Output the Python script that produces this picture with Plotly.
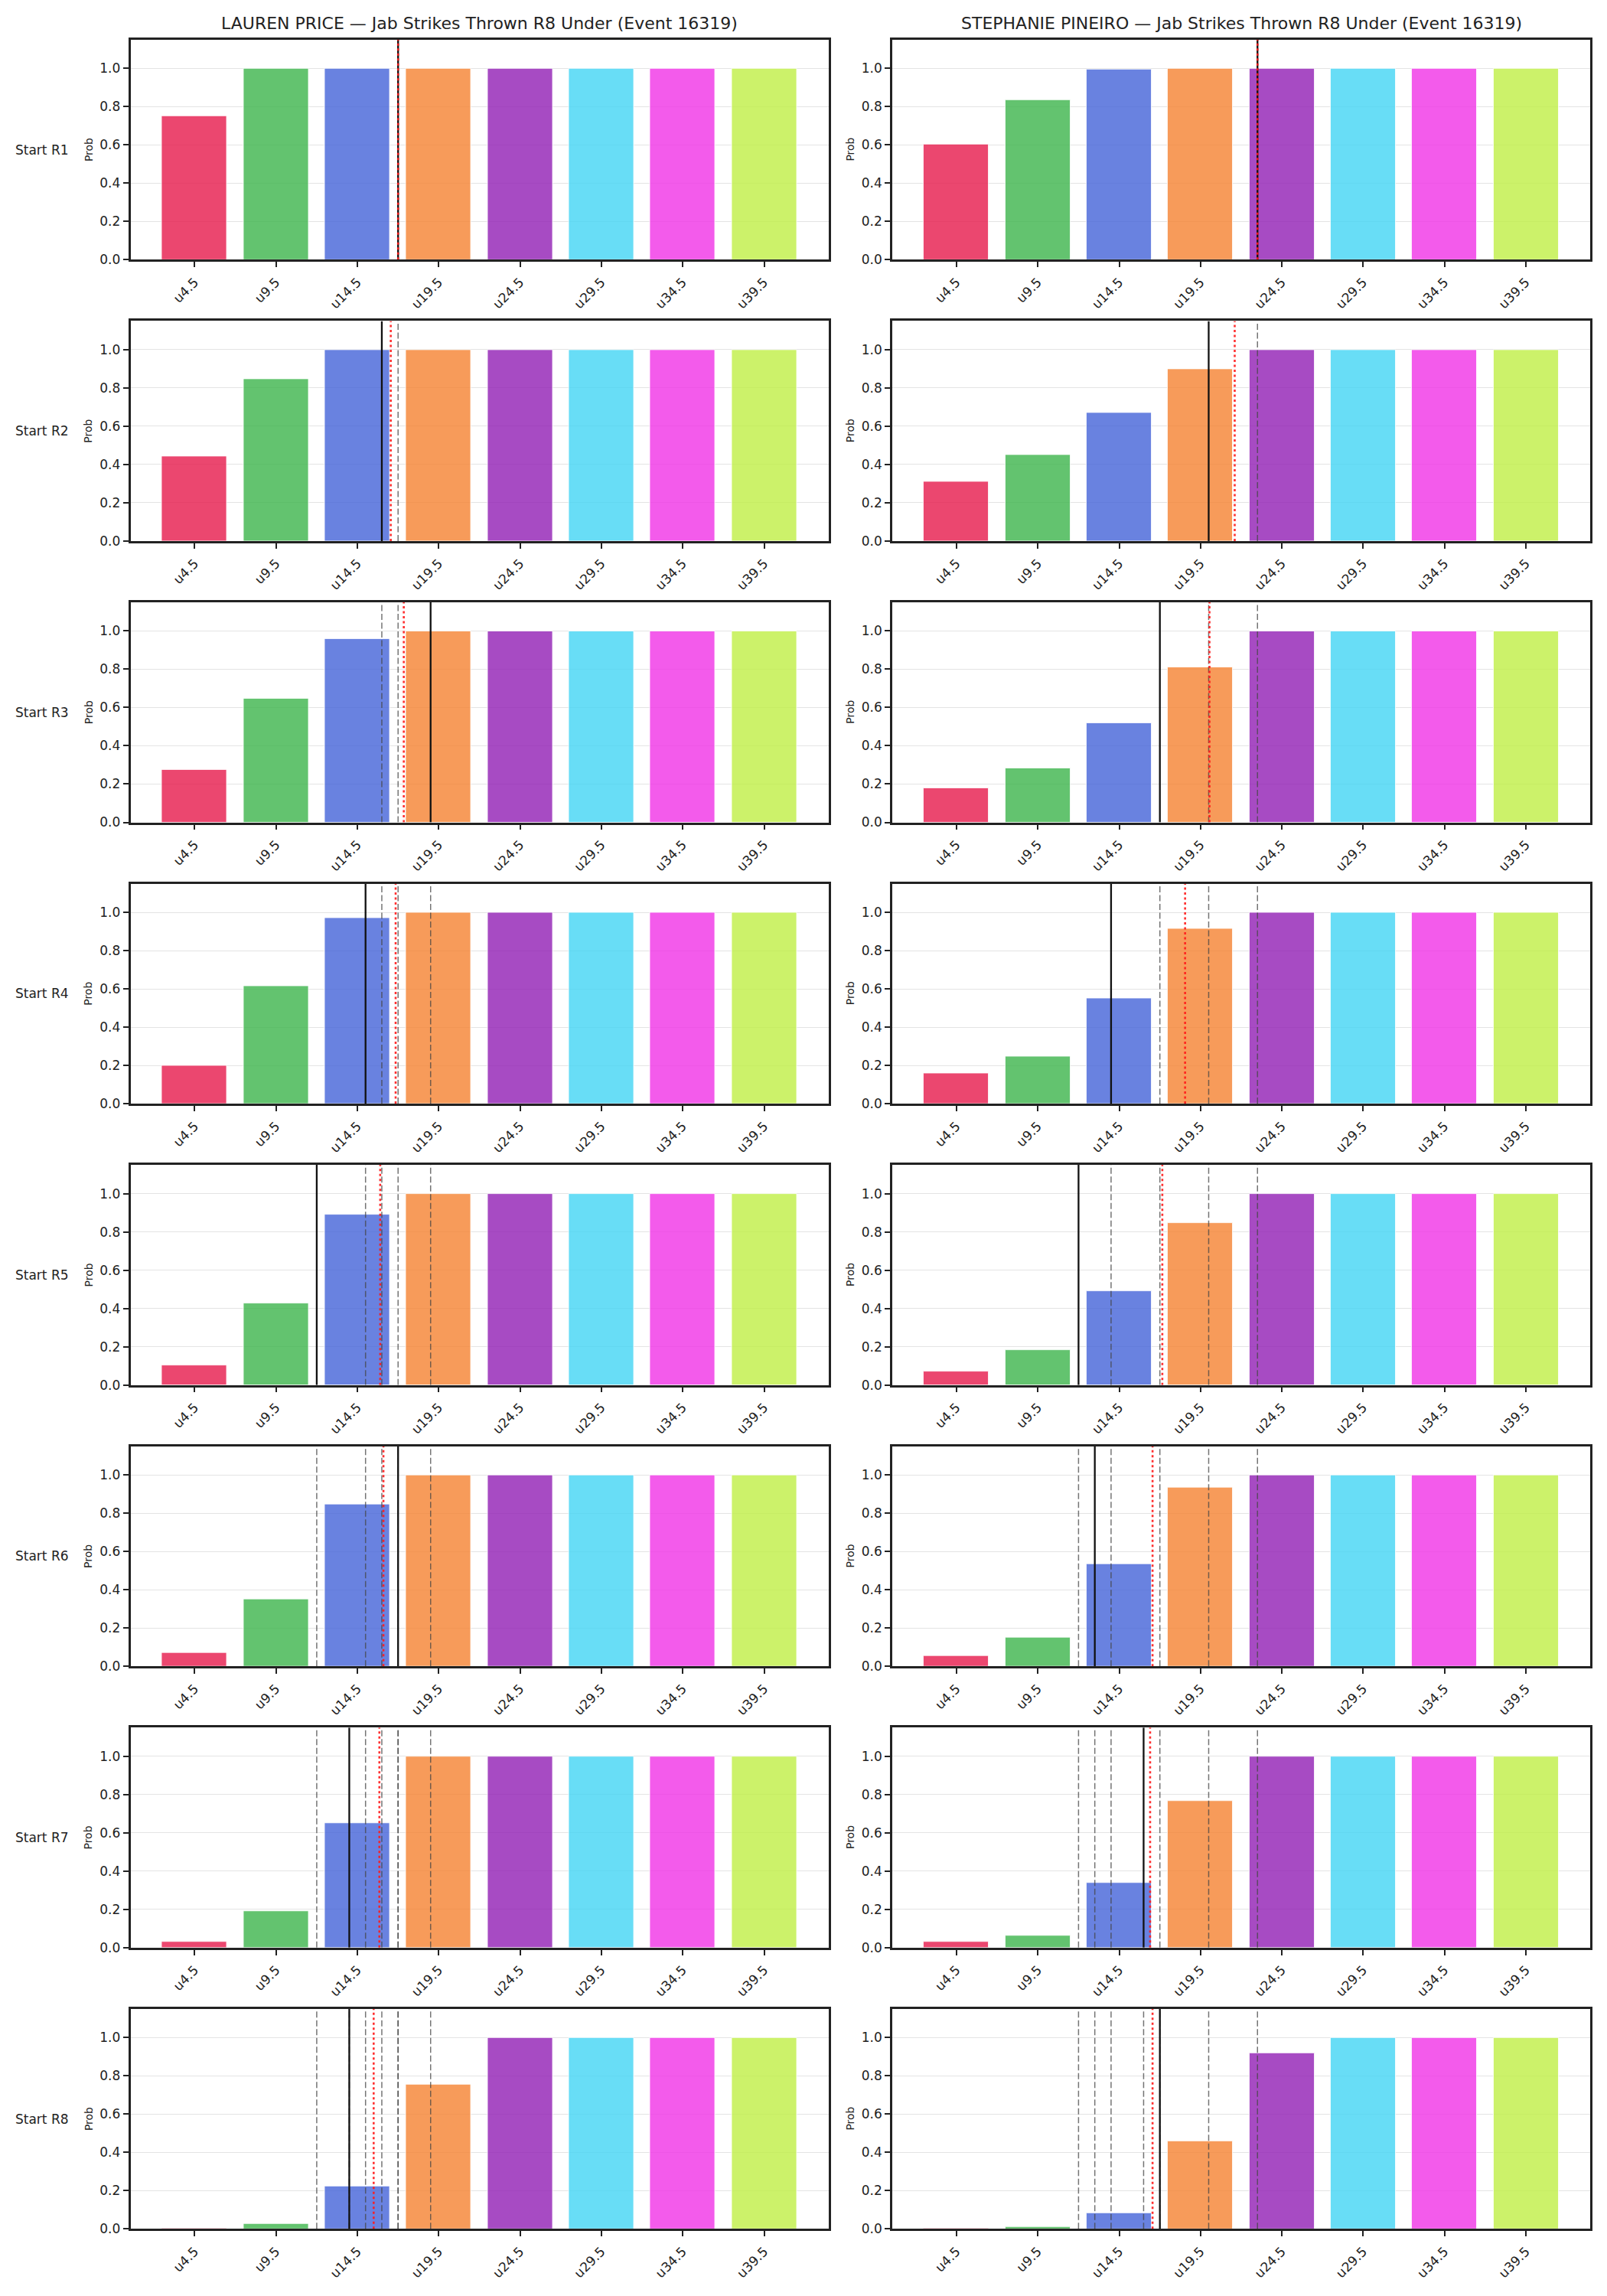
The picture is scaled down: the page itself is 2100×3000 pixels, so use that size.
import plotly.graph_objects as go
from plotly.subplots import make_subplots

W, H = 2100, 3000

# ---------------- data ----------------
thresholds = [4.5, 9.5, 14.5, 19.5, 24.5, 29.5, 34.5, 39.5]
tick_labels = ["u4.5", "u9.5", "u14.5", "u19.5", "u24.5", "u29.5", "u34.5", "u39.5"]
round_labels = ["Start R1", "Start R2", "Start R3", "Start R4",
                "Start R5", "Start R6", "Start R7", "Start R8"]
titles = ["LAUREN PRICE \u2014 Jab Strikes Thrown R8 Under (Event 16319)",
          "STEPHANIE PINEIRO \u2014 Jab Strikes Thrown R8 Under (Event 16319)"]

price_probs = [
    [0.750, 1.000, 1.000, 1.0, 1.0, 1.0, 1.0, 1.0],
    [0.443, 0.847, 1.000, 1.0, 1.0, 1.0, 1.0, 1.0],
    [0.273, 0.645, 0.958, 1.0, 1.0, 1.0, 1.0, 1.0],
    [0.199, 0.614, 0.970, 1.0, 1.0, 1.0, 1.0, 1.0],
    [0.103, 0.427, 0.890, 1.0, 1.0, 1.0, 1.0, 1.0],
    [0.070, 0.351, 0.847, 1.0, 1.0, 1.0, 1.0, 1.0],
    [0.030, 0.189, 0.649, 1.0, 1.0, 1.0, 1.0, 1.0],
    [0.004, 0.026, 0.224, 0.753, 1.0, 1.0, 1.0, 1.0],
]
pineiro_probs = [
    [0.601, 0.835, 0.993, 1.000, 1.000, 1.0, 1.0, 1.0],
    [0.309, 0.451, 0.669, 0.898, 1.000, 1.0, 1.0, 1.0],
    [0.178, 0.281, 0.518, 0.811, 1.000, 1.0, 1.0, 1.0],
    [0.159, 0.246, 0.551, 0.914, 1.000, 1.0, 1.0, 1.0],
    [0.071, 0.181, 0.490, 0.847, 1.000, 1.0, 1.0, 1.0],
    [0.054, 0.149, 0.534, 0.934, 1.000, 1.0, 1.0, 1.0],
    [0.030, 0.062, 0.340, 0.768, 1.000, 1.0, 1.0, 1.0],
    [0.004, 0.011, 0.082, 0.457, 0.918, 1.0, 1.0, 1.0],
]
# strikes thrown so far at the start of each round (solid black line)
price_current = [17, 16, 19, 15, 12, 17, 14, 14]
pineiro_current = [23, 20, 17, 14, 12, 13, 16, 17]
# projected value (red dotted line)
price_proj = [17.0, 16.55, 17.35, 16.85, 15.9, 16.1, 15.85, 15.5]
pineiro_proj = [23.0, 21.6, 20.05, 18.55, 17.15, 16.55, 16.4, 16.55]

bar_colors = ["#e6194b", "#3cb44b", "#4363d8", "#f58231",
              "#911eb4", "#42d4f4", "#f032e6", "#bfef45"]

probs = [price_probs, pineiro_probs]
currents = [price_current, pineiro_current]
projs = [price_proj, pineiro_proj]

# ---------------- layout geometry (pixels) ----------------
col_x = [(170.5, 1082.5), (1166.0, 2078.0)]
row_top0, row_pitch, row_h = 52.0, 368.8, 288.5
YMAX = 1.15
XMIN = thresholds[0] - 0.79 * 5
XMAX = thresholds[-1] + 0.79 * 5

FONT = "DejaVu Sans"
INK = "#222222"


def hex_rgba(h, a):
    h = h.lstrip("#")
    return "rgba(%d,%d,%d,%.2f)" % (int(h[0:2], 16), int(h[2:4], 16), int(h[4:6], 16), a)


fig = make_subplots(rows=8, cols=2)

annotations = []
for r in range(8):
    top = row_top0 + r * row_pitch
    bot = top + row_h
    ydom = [1 - bot / H, 1 - top / H]
    for c in range(2):
        idx = r * 2 + c + 1
        xs = "" if idx == 1 else str(idx)
        x0, x1 = col_x[c]
        fig.layout["xaxis" + xs].domain = [x0 / W, x1 / W]
        fig.layout["yaxis" + xs].domain = ydom

        fig.add_trace(go.Bar(
            x=thresholds, y=probs[c][r], width=4.0,
            marker=dict(color=[hex_rgba(col, 0.8) for col in bar_colors],
                        line=dict(color="rgba(255,255,255,0.8)", width=1)),
            showlegend=False, hoverinfo="skip"), row=r + 1, col=c + 1)

        # previous rounds' positions (gray dashed)
        for v in currents[c][:r]:
            fig.add_trace(go.Scatter(
                x=[v, v], y=[0, YMAX], mode="lines",
                line=dict(color="rgba(70,70,70,0.75)", width=1.5, dash="8px,3.5px"),
                showlegend=False, hoverinfo="skip"), row=r + 1, col=c + 1)
        # current position (black solid)
        v = currents[c][r]
        fig.add_trace(go.Scatter(
            x=[v, v], y=[0, YMAX], mode="lines",
            line=dict(color="#111111", width=2.3),
            showlegend=False, hoverinfo="skip"), row=r + 1, col=c + 1)
        # projection (red dotted)
        v = projs[c][r]
        fig.add_trace(go.Scatter(
            x=[v, v], y=[0, YMAX], mode="lines",
            line=dict(color="rgba(255,25,25,0.9)", width=2.6, dash="3px,3.5px"),
            showlegend=False, hoverinfo="skip"), row=r + 1, col=c + 1)

        fig.update_xaxes(
            range=[XMIN, XMAX], tickvals=thresholds, ticktext=tick_labels,
            tickangle=-45, ticks="outside", ticklen=7, tickwidth=1.6, tickcolor=INK,
            ticklabelstandoff=3,
            showline=True, mirror=True, linecolor=INK, linewidth=2.5,
            showgrid=False, zeroline=False,
            tickfont=dict(family=FONT, size=17, color=INK),
            row=r + 1, col=c + 1)
        fig.update_yaxes(
            range=[0, YMAX], tickvals=[0, 0.2, 0.4, 0.6, 0.8, 1.0],
            ticktext=["0.0", "0.2", "0.4", "0.6", "0.8", "1.0"],
            ticks="outside", ticklen=7, tickwidth=1.6, tickcolor=INK,
            showline=True, mirror=True, linecolor=INK, linewidth=2.5,
            showgrid=True, gridcolor="#e4e4e4", gridwidth=1, zeroline=False,
            tickfont=dict(family=FONT, size=17, color=INK),
            row=r + 1, col=c + 1)

        # "Prob" y label
        annotations.append(dict(
            text="Prob", x=(x0 - 55) / W, y=1 - (top + bot) / 2 / H,
            xref="paper", yref="paper", xanchor="center", yanchor="middle",
            textangle=-90, showarrow=False,
            font=dict(family=FONT, size=14, color=INK)))
        if c == 0:
            annotations.append(dict(
                text=round_labels[r], x=92 / W, y=1 - (top + bot) / 2 / H,
                xref="paper", yref="paper", xanchor="right", yanchor="middle",
                showarrow=False, font=dict(family=FONT, size=17, color=INK)))
        if r == 0:
            annotations.append(dict(
                text=titles[c], x=(x0 + x1) / 2 / W, y=1 - 31 / H,
                xref="paper", yref="paper", xanchor="center", yanchor="middle",
                showarrow=False, font=dict(family=FONT, size=22, color=INK)))

fig.update_layout(
    width=W, height=H, margin=dict(l=0, r=0, t=0, b=0),
    paper_bgcolor="white", plot_bgcolor="white",
    annotations=annotations, bargap=0, font=dict(family=FONT, color=INK),
)

fig.write_html("out.html")
